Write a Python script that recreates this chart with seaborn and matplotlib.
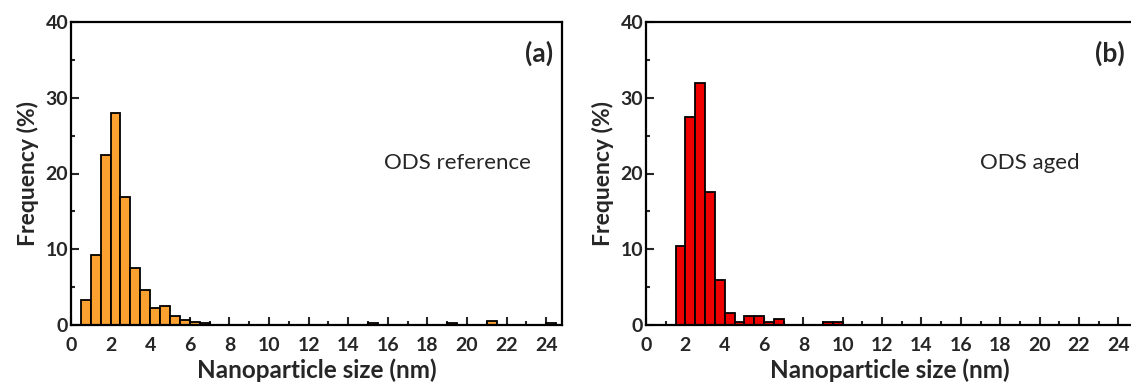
import numpy as np
import pandas as pd
import matplotlib
matplotlib.use("Agg")
import matplotlib.pyplot as plt
import seaborn as sns
from matplotlib.ticker import MultipleLocator

sns.set_style("white")
plt.rcParams["font.family"] = ["Lato", "DejaVu Sans"]

# bin left edges (nm) and frequency (%), bin width 0.5 nm
bins_ref = [0.5, 1.0, 1.5, 2.0, 2.5, 3.0, 3.5, 4.0, 4.5, 5.0, 5.5, 6.0, 6.5,
            15.0, 19.0, 21.0, 24.0]
freq_ref = [3.3, 9.2, 22.4, 28.0, 16.9, 7.5, 4.6, 2.2, 2.5, 1.2, 0.66, 0.35, 0.3,
            0.25, 0.25, 0.5, 0.25]

bins_aged = [1.5, 2.0, 2.5, 3.0, 3.5, 4.0, 4.5, 5.0, 5.5, 6.0, 6.5, 9.0, 9.5]
freq_aged = [10.4, 27.5, 31.9, 17.5, 6.0, 1.6, 0.44, 1.2, 1.2, 0.4, 0.75, 0.4, 0.4]

panels = [
    ("(a)", "ODS reference", bins_ref, freq_ref, "#FBA130", 0.5),
    ("(b)", "ODS aged", bins_aged, freq_aged, "#EE0000", 1.5),
]

W, H = 1131, 382
fig = plt.figure(figsize=(W / 100, H / 100), dpi=100)
axes = [
    fig.add_axes([71 / W, 1 - 325 / H, (562 - 71) / W, (325 - 22) / H]),
    # right panel runs past the image edge, as in the original
    fig.add_axes([646 / W, 1 - 325 / H, (1134 - 646) / W, (325 - 22) / H]),
]

for ax, (tag, name, lefts, freqs, color, start) in zip(axes, panels):
    df = pd.DataFrame({"size": np.array(lefts) + 0.25, "freq": freqs})
    sns.histplot(data=df, x="size", weights="freq", binwidth=0.5,
                 binrange=(start, 25.0), ax=ax, color=color,
                 alpha=1, edgecolor="black", linewidth=1.3)
    ax.set_xlim(0, 24.8)
    ax.set_ylim(0, 40)
    ax.xaxis.set_major_locator(MultipleLocator(2))
    ax.xaxis.set_minor_locator(MultipleLocator(1))
    ax.yaxis.set_major_locator(MultipleLocator(10))
    ax.yaxis.set_minor_locator(MultipleLocator(5))
    ax.tick_params(which="both", direction="in", bottom=True, left=True,
                   top=False, right=False, width=1.5)
    ax.tick_params(which="major", length=6, labelsize=14)
    ax.tick_params(which="minor", length=3)
    ax.tick_params(axis="x", pad=8.5)
    ax.tick_params(axis="y", pad=2)
    for lab in ax.get_xticklabels() + ax.get_yticklabels():
        lab.set_fontweight("bold")
    for sp in ax.spines.values():
        sp.set_linewidth(1.6)
        sp.set_color("black")
    ax.set_xlabel("Nanoparticle size (nm)", fontsize=17.5, fontweight="bold", labelpad=3)
    ax.set_ylabel("Frequency (%)", fontsize=16.5, fontweight="bold", labelpad=5)
    ax.text(24.35, 35.8, tag, ha="right", va="center", fontsize=19, fontweight="bold")
    ax.text(19.5, 21.4, name, ha="center", va="center", fontsize=16)

fig.savefig("out.png", dpi=100)
